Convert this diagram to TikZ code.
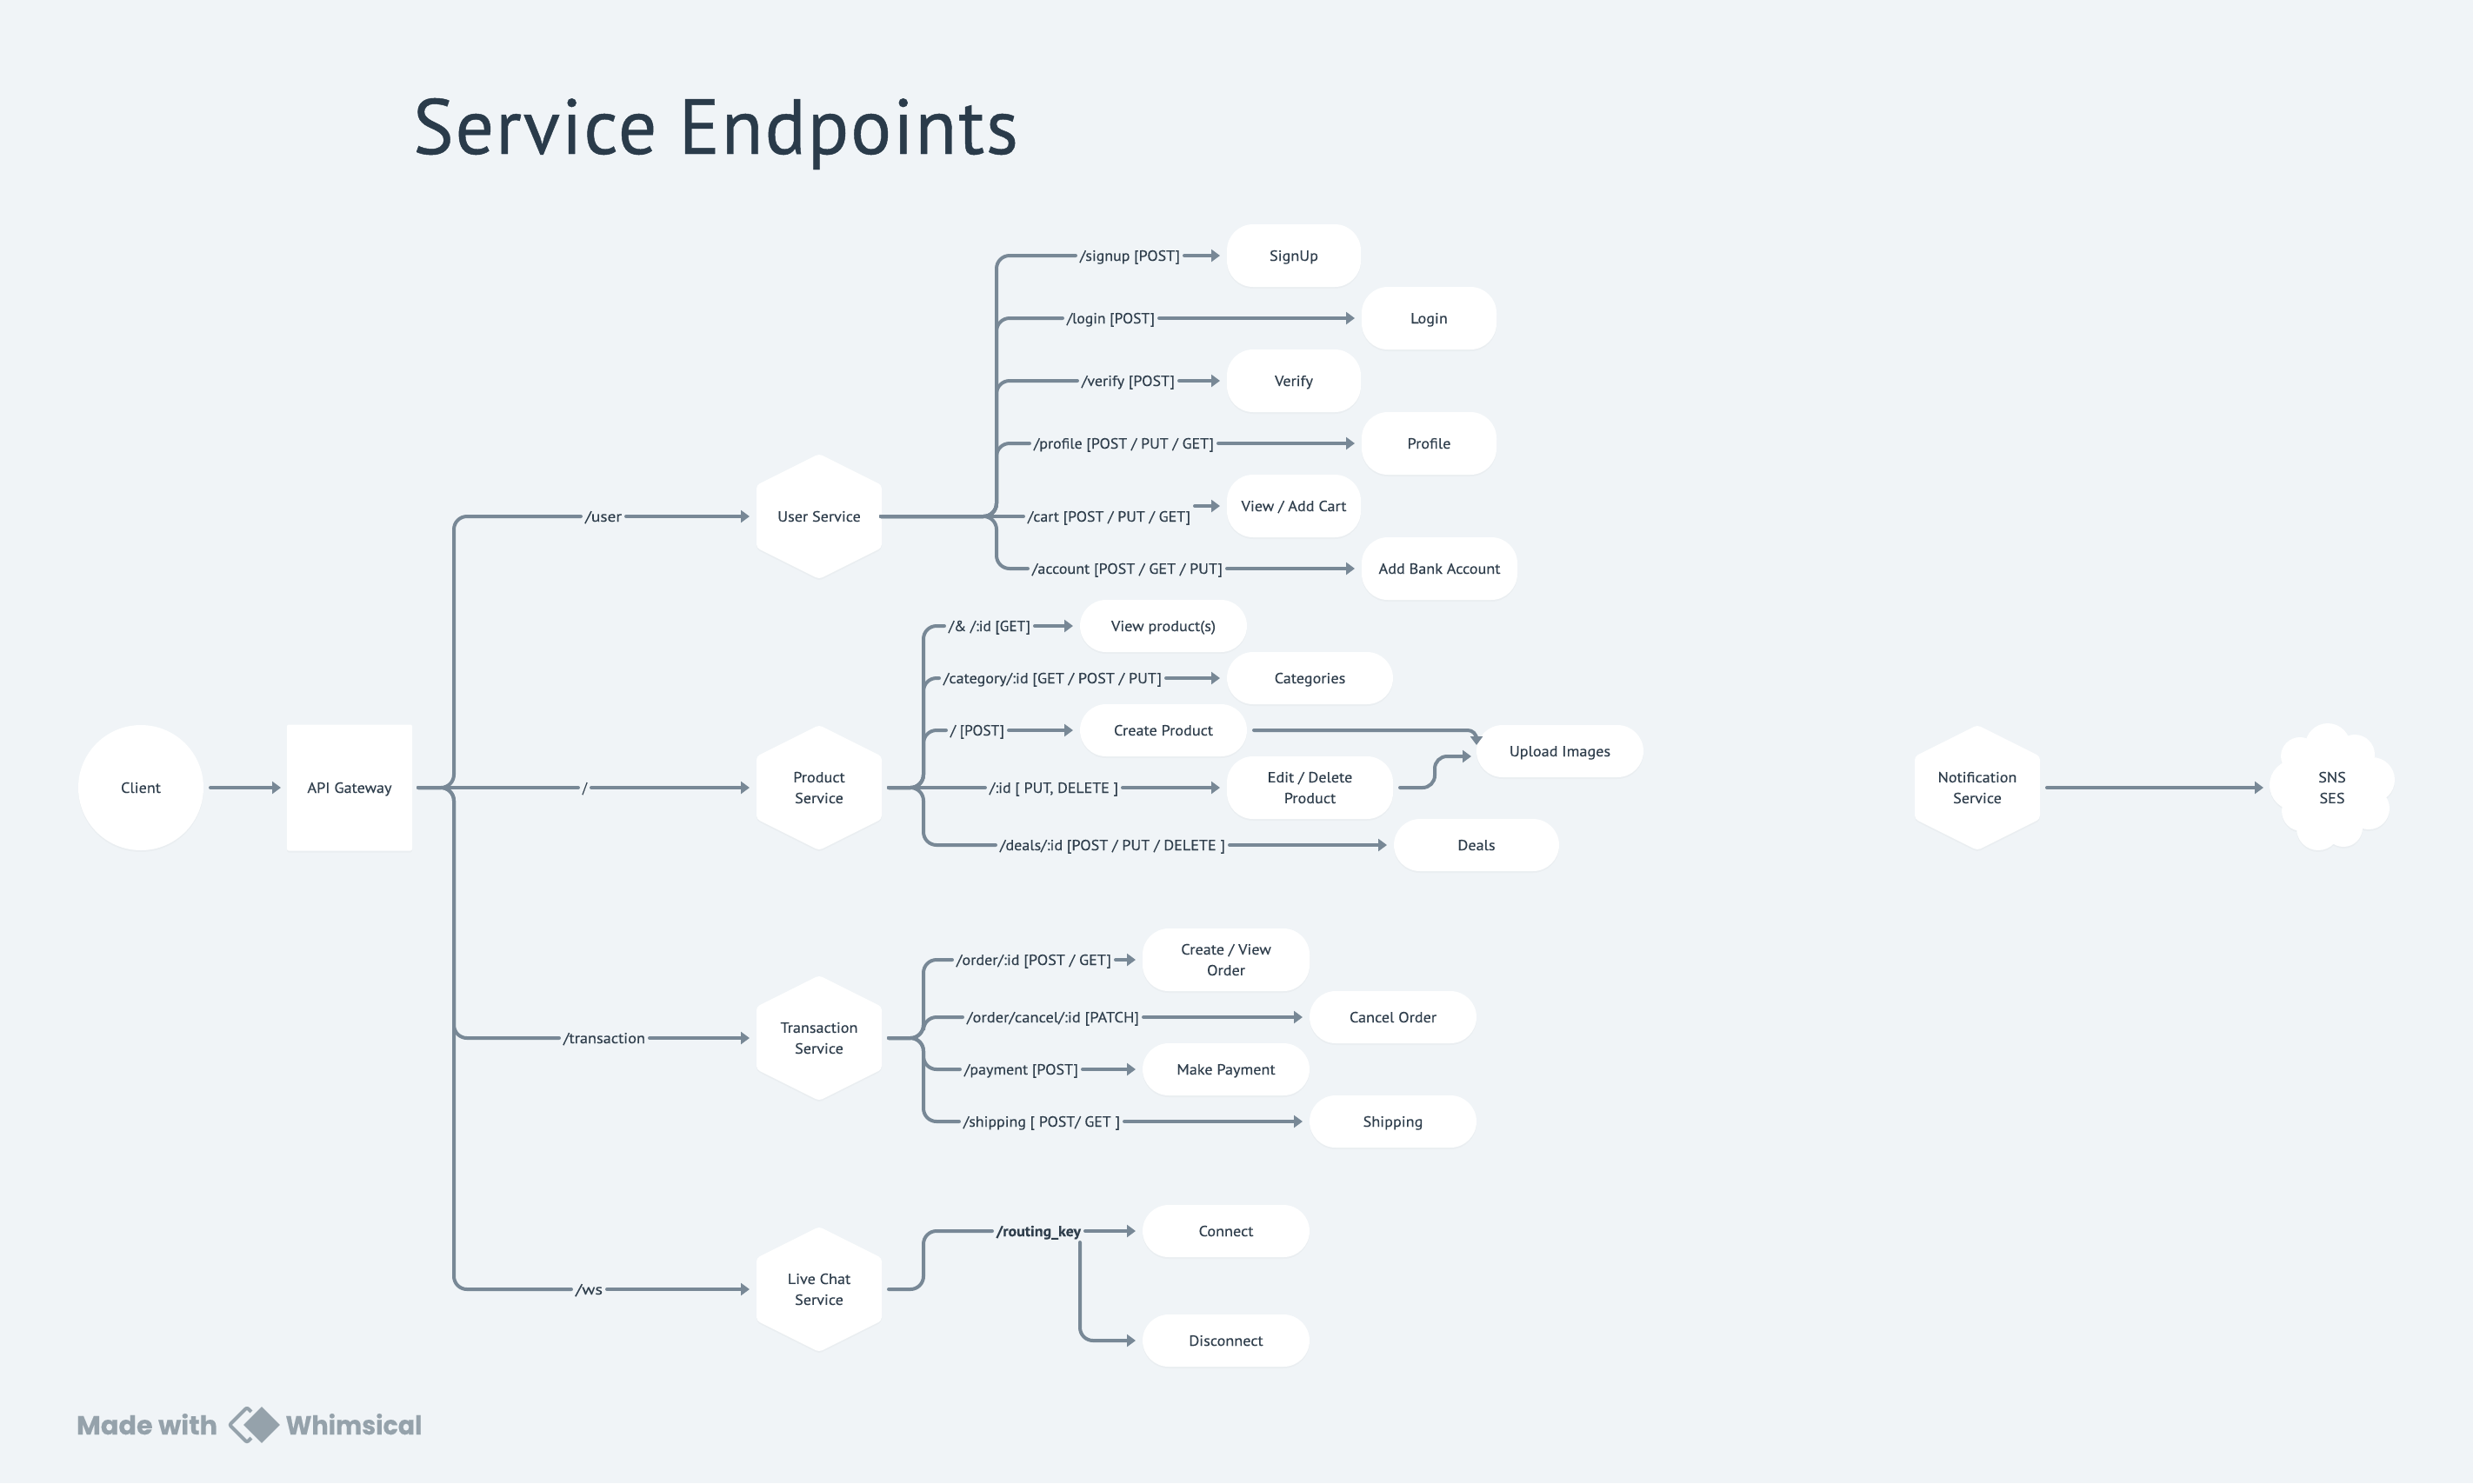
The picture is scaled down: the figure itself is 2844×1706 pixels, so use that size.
\documentclass[tikz,border=0pt]{standalone}
\usepackage{fontspec}
\usepackage{graphicx}
\setmainfont[FakeStretch=1.07,FakeBold=0.25]{PT Sans}
\newfontfamily\titlefont[FakeBold=0.5,LetterSpace=2]{PT Sans}
\newfontfamily\footfont[FakeBold=0.3]{Poppins}
\usetikzlibrary{arrows.meta,shadows}
\definecolor{bgc}{HTML}{F0F4F7}
\definecolor{wirec}{HTML}{788896}
\definecolor{textc}{HTML}{2F3E4C}
\definecolor{titlec}{HTML}{2A3B4A}
\definecolor{logoc}{HTML}{95A2AB}
\tikzset{
  softshadow/.style={drop shadow={shadow xshift=0pt,shadow yshift=-2pt,opacity=0.025,fill=black}},
  shapefill/.style={fill=white,softshadow},
  txt/.style={font=\fontsize{17}{24}\selectfont,text=textc,align=center,inner sep=0pt},
  one/.style={text height=12pt,text depth=0pt},
  labl/.style={txt,one,outer xsep=5pt,outer ysep=0pt},
  pillbox/.style={txt,shapefill,rounded corners=30pt,outer sep=8pt},
  hexbox/.style={txt,minimum width=144pt,minimum height=144pt,outer sep=8pt},
  wire/.style={draw=wirec,line width=4pt,line cap=round,rounded corners=15pt},
  arr/.style={wire,-{Triangle[length=10pt,width=14pt]}},
}
\newcommand\lab[6][]{\node[labl,minimum width={(#4-#3)*1pt},#1] (#2) at ({(#3+#4)/2},#5) {\resizebox{\dimexpr#4pt-#3pt\relax}{\height}{#6}};}
\newcommand\pill[7][]{\node[pillbox,minimum width={(#4-#3)*1pt},minimum height={#6*1pt},#1] (#2) at ({(#3+#4)/2},#5) {#7};}
\newcommand\hexat[5][]{%
  \fill[shapefill,rounded corners=4pt,shift={(#3,#4)}] (0,-72) -- (72,-36) -- (72,36) -- (0,72) -- (-72,36) -- (-72,-36) -- cycle;
  \node[hexbox,#1] (#2) at (#3,#4) {#5};}
\begin{document}
\begin{tikzpicture}[x=1pt,y=-1pt]
\fill[bgc] (0,0) rectangle (2844,1706);
\useasboundingbox (0,0) rectangle (2844,1706);

% title
\node[inner sep=0pt,text=titlec,font=\titlefont\fontsize{90}{90}\selectfont,text height=63pt,text depth=0pt] (title) at (823,145.5) {\resizebox{696pt}{\height}{Service Endpoints}};

% entry
\node[txt,one,shapefill,circle,minimum size=144pt,outer sep=8pt] (client) at (162,906) {Client};
\node[txt,one,shapefill,rectangle,rounded corners=2pt,minimum width=144pt,minimum height=145pt,outer sep=7pt] (api) at (402,906) {API Gateway};

% services
\hexat{usr}{942}{594}{User Service}
\hexat{prod}{942}{906}{Product\\Service}
\hexat{trans}{942}{1194}{Transaction\\Service}
\hexat{chat}{942}{1483}{Live Chat\\Service}
\hexat{notif}{2274}{906}{Notification\\Service}

% cloud
\fill[shapefill] (2682,906) circle (45) (2677,858) circle (26) (2645,870) circle (22) (2708,868) circle (23)
  (2728,897) circle (26) (2639,903) circle (29) (2724,930) circle (24) (2695,952) circle (22) (2666,953) circle (25) (2647,933) circle (23);
\node[txt,minimum width=144pt,minimum height=144pt,outer sep=7pt] (sns) at (2682,906) {SNS\\SES};

% gateway labels
\lab{luser}{673}{715}{594}{/user}
\lab{lroot}{670}{675}{906}{/}
\lab{ltrans}{648}{742}{1194}{/transaction}
\lab{lws}{662}{693}{1483}{/ws}

% user service
\pill[one]{signup}{1411}{1565}{294}{72}{SignUp}
\pill[one]{login}{1566}{1721}{366}{72}{Login}
\pill[one]{verify}{1411}{1565}{438}{72}{Verify}
\pill[one]{profile}{1566}{1721}{510}{72}{Profile}
\pill[one]{vcart}{1411}{1565}{582}{72}{View / Add Cart}
\pill[one]{bank}{1566}{1745}{654}{72}{Add Bank Account}
\lab{lsign}{1242}{1357}{294}{/signup [POST]}
\lab{llog}{1227}{1328}{366}{/login [POST]}
\lab{lver}{1244}{1351}{438}{/verify [POST]}
\lab{lprof}{1189}{1396}{510}{/profile [POST / PUT / GET]}
\lab{lcart}{1182}{1369}{594}{/cart [POST / PUT / GET]}
\lab{lacc}{1187}{1406}{654}{/account [POST / GET / PUT]}

% product service
\pill[one]{vprod}{1242}{1434}{720}{60}{View product(s)}
\pill[one]{cat}{1411}{1602}{780}{60}{Categories}
\pill[one]{cprod}{1242}{1434}{840}{60}{Create Product}
\pill{edit}{1411}{1602}{906}{72}{Edit / Delete\\Product}
\pill[one,outer sep=0pt]{upload}{1698}{1890}{864}{60}{Upload Images}
\pill[one]{deals}{1603}{1793}{972}{60}{Deals}
\lab{lvp}{1091}{1185}{720}{/\& /:id [GET]}
\lab{lcat}{1085}{1336}{780}{/category/:id [GET / POST / PUT]}
\lab{lcp}{1093}{1155}{840}{/ [POST]}
\lab{led}{1138}{1286}{906}{/:id [ PUT, DELETE ]}
\lab{ldl}{1150}{1409}{972}{/deals/:id [POST / PUT / DELETE ]}

% transaction service
\pill{corder}{1314}{1506}{1104}{72}{Create / View\\Order}
\pill[one]{cancel}{1506}{1698}{1170}{60}{Cancel Order}
\pill[one]{pay}{1314}{1506}{1230}{60}{Make Payment}
\pill[one]{ship}{1506}{1698}{1290}{60}{Shipping}
\lab{lord}{1100}{1278}{1104}{/order/:id [POST / GET]}
\lab{lcan}{1112}{1310}{1170}{/order/cancel/:id [PATCH]}
\lab{lpay}{1109}{1240}{1230}{/payment [POST]}
\lab{lship}{1108}{1288}{1290}{/shipping [ POST/ GET ]}

% live chat
\pill[one]{conn}{1314}{1506}{1416}{60}{Connect}
\pill[one]{disc}{1314}{1506}{1542}{60}{Disconnect}
\lab{lkey}{1146}{1243}{1416}{\bfseries /routing\_key}

% helper coordinates
\coordinate (gt) at (522,906);
\coordinate (uh) at (1013,594);
\coordinate (ut) at (1146,594);
\coordinate (pt) at (1062,906);
\coordinate (tt) at (1062,1194);
\coordinate (ct) at (1062,1483);
\coordinate (keyb) at (1242,1429);
\coordinate (upin) at (1698,857);
\coordinate (upside) at (1692,870);
\coordinate (ebend) at (1650,906);
\coordinate (cbend) at (1698,840);

% connectors
\draw[arr] (client.east) -- (api.west);
\draw[wire] (api.east) -- (gt) |- (luser.west);
\draw[wire] (api.east) -- (lroot.west);
\draw[wire] (api.east) -- (gt) |- (ltrans.west);
\draw[wire] (api.east) -- (gt) |- (lws.west);
\draw[arr] (luser.east) -- (usr.west);
\draw[arr] (lroot.east) -- (prod.west);
\draw[arr] (ltrans.east) -- (trans.west);
\draw[arr] (lws.east) -- (chat.west);

\draw[wire] (uh) -- (ut) |- (lsign.west);
\draw[wire] (uh) -- (ut) |- (llog.west);
\draw[wire] (uh) -- (ut) |- (lver.west);
\draw[wire] (uh) -- (ut) |- (lprof.west);
\draw[wire] (uh) -- (lcart.west);
\draw[wire] (uh) -- (ut) |- (lacc.west);
\draw[arr] (lsign.east) -- (signup.west);
\draw[arr] (llog.east) -- (login.west);
\draw[arr] (lver.east) -- (verify.west);
\draw[arr] (lprof.east) -- (profile.west);
\draw[arr] (lcart.east |- vcart.west) -- (vcart.west);
\draw[arr] (lacc.east) -- (bank.west);

\draw[wire] (prod.east) -- (pt) |- (lvp.west);
\draw[wire] (prod.east) -- (pt) |- (lcat.west);
\draw[wire] (prod.east) -- (pt) |- (lcp.west);
\draw[wire] (prod.east) -- (led.west);
\draw[wire] (prod.east) -- (pt) |- (ldl.west);
\draw[arr] (lvp.east) -- (vprod.west);
\draw[arr] (lcat.east) -- (cat.west);
\draw[arr] (lcp.east) -- (cprod.west);
\draw[arr] (led.east) -- (edit.west);
\draw[arr] (ldl.east) -- (deals.west);
\draw[arr,rounded corners=10pt] (cprod.east) -- (cbend) -- (upin);
\draw[arr,rounded corners=14pt] (edit.east) -- (ebend) |- (upside);

\draw[wire] (trans.east) -- (tt) |- (lord.west);
\draw[wire] (trans.east) -- (tt) |- (lcan.west);
\draw[wire] (trans.east) -- (tt) |- (lpay.west);
\draw[wire] (trans.east) -- (tt) |- (lship.west);
\draw[arr] (lord.east) -- (corder.west);
\draw[arr] (lcan.east) -- (cancel.west);
\draw[arr] (lpay.east) -- (pay.west);
\draw[arr] (lship.east) -- (ship.west);

\draw[wire] (chat.east) -- (ct) |- (lkey.west);
\draw[arr] (lkey.east) -- (conn.west);
\draw[arr] (keyb) |- (disc.west);

\draw[arr] (notif.east) -- (sns.west);

% footer
\node[inner sep=0pt,text=logoc,font=\footfont\bfseries\fontsize{30}{30}\selectfont,text height=21pt,text depth=0pt] (made) at (169,1639.5) {\resizebox{162pt}{\height}{Made with}};
\node[inner sep=0pt,text=logoc,font=\footfont\bfseries\fontsize{30}{30}\selectfont,text height=21pt,text depth=0pt] (whim) at (407,1639.5) {\resizebox{157pt}{\height}{Whimsical}};
\draw[logoc,line width=4pt,rounded corners=2pt,line join=round] (284,1619) -- (304,1639) -- (284,1659) -- (264,1639) -- cycle;
\filldraw[fill=logoc,draw=bgc,line width=4pt,rounded corners=2pt] (301,1615) -- (325,1639) -- (301,1663) -- (277,1639) -- cycle;
\end{tikzpicture}
\end{document}
